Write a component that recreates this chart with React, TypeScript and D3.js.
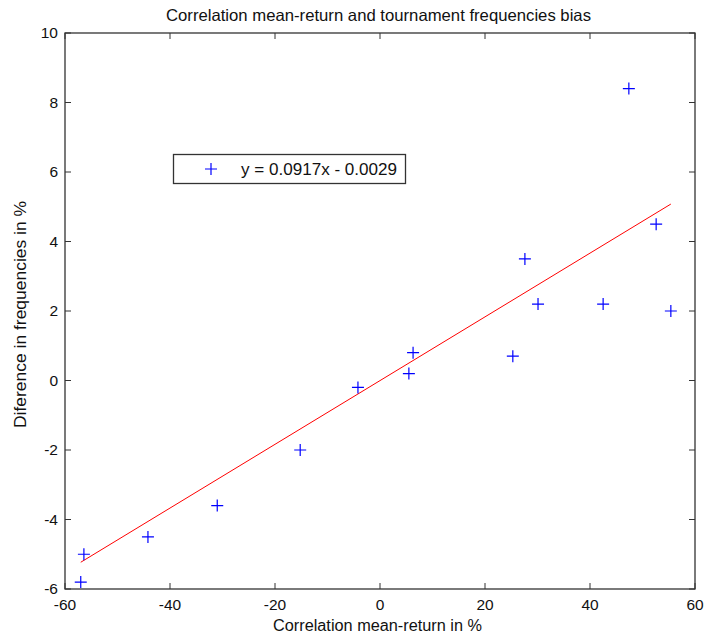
import React from "react";
import * as d3 from "d3";

const xValues = [-56.4, -57.0, -44.2, -31.0, -15.2, -4.2, 5.5, 6.3, 25.3, 27.6, 30.1, 42.5, 47.4, 52.6, 55.4];
const yValues = [-5.0, -5.8, -4.5, -3.6, -2.0, -0.2, 0.2, 0.8, 0.7, 3.5, 2.2, 2.2, 8.4, 4.5, 2.0];
const slope = 0.0917;
const intercept = -0.0029;
const xTicks = [-60, -40, -20, 0, 20, 40, 60];
const yTicks = [-6, -4, -2, 0, 2, 4, 6, 8, 10];
const title = "Correlation mean-return and tournament frequencies bias";
const xLabel = "Correlation mean-return in %";
const yLabel = "Diference in frequencies in %";
const legendText = "y = 0.0917x - 0.0029";

export default function App() {
  const W = 707, H = 639;
  const left = 65, right = 695, top = 33, bottom = 589;
  const x = d3.scaleLinear().domain([-60, 60]).range([left, right]);
  const y = d3.scaleLinear().domain([-6, 10]).range([bottom, top]);
  const tick = 6;
  const font = "'Liberation Sans', Arial, sans-serif";
  const xmin = d3.min(xValues)!;
  const xmax = d3.max(xValues)!;
  const line = d3.line<number>().x((d) => x(d)).y((d) => y(slope * d + intercept));
  const ms = 6;
  const plus = (cx: number, cy: number, key: string) => (
    <path key={key} d={`M${cx - ms},${cy}H${cx + ms}M${cx},${cy - ms}V${cy + ms}`} stroke="#0000ff" strokeWidth={1.2} fill="none" />
  );
  return (
    <svg width={W} height={H} style={{ position: "absolute", left: 0, top: 0, background: "#fff" }} fontFamily={font}>
      <rect x={0} y={0} width={W} height={H} fill="#fff" />
      <text x={166} y={20.5} fontSize={16.5} fill="#111" textLength={425} lengthAdjust="spacingAndGlyphs">{title}</text>
      {xTicks.map((t) => (
        <g key={"xt" + t}>
          <line x1={x(t)} x2={x(t)} y1={bottom} y2={bottom - tick} stroke="#333" />
          <line x1={x(t)} x2={x(t)} y1={top} y2={top + tick} stroke="#333" />
          <text x={x(t)} y={bottom + 21} textAnchor="middle" fontSize={15.5} fill="#111">{t}</text>
        </g>
      ))}
      {yTicks.map((t) => (
        <g key={"yt" + t}>
          <line x1={left} x2={left + tick} y1={y(t)} y2={y(t)} stroke="#333" />
          <line x1={right} x2={right - tick} y1={y(t)} y2={y(t)} stroke="#333" />
          <text x={left - 7} y={y(t) + 5} textAnchor="end" fontSize={15.5} fill="#111">{t}</text>
        </g>
      ))}
      <rect x={left} y={top} width={right - left} height={bottom - top} fill="none" stroke="#333" strokeWidth={1.3} />
      <path d={line([xmin, xmax]) || ""} stroke="#ff0000" strokeWidth={1} fill="none" />
      {xValues.map((v, i) => plus(x(v), y(yValues[i]), "p" + i))}
      <text x={273} y={631} fontSize={16} fill="#111" textLength={209} lengthAdjust="spacingAndGlyphs">{xLabel}</text>
      <text transform={`translate(26,428) rotate(-90)`} fontSize={16} fill="#111" textLength={227} lengthAdjust="spacingAndGlyphs">{yLabel}</text>
      <rect x={173.5} y={154.5} width={232} height={29} fill="#fff" stroke="#333" strokeWidth={1.3} />
      {plus(211, 169, "leg")}
      <text x={241} y={175} fontSize={16} fill="#111" textLength={156} lengthAdjust="spacingAndGlyphs">{legendText}</text>
    </svg>
  );
}
